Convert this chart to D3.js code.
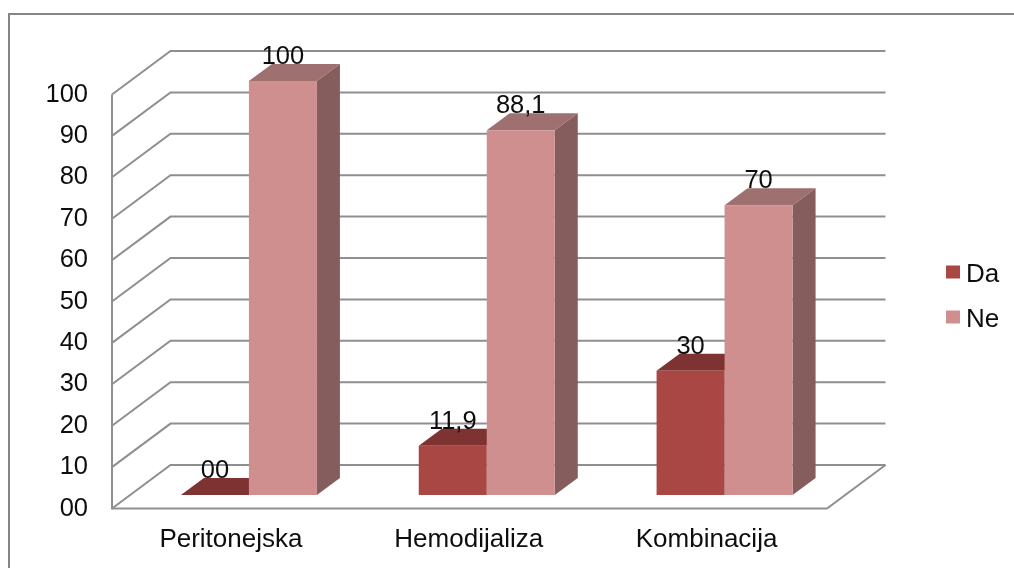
<!DOCTYPE html>
<html><head><meta charset="utf-8">
<script src="https://cdn.jsdelivr.net/npm/d3@7"></script>
<style>html,body{margin:0;background:#fff}svg{display:block}text{font-family:"Liberation Sans",Arial,sans-serif;fill:#111}</style>
</head><body><svg id="c" width="1014" height="568"></svg>
<script>
const categories = ["Peritonejska","Hemodijaliza","Kombinacija"];
const seriesNames = ["Da","Ne"];
const da = [0,11.9,30];
const ne = [100,88.1,70];
const daLabels = ["00","11,9","30"];
const neLabels = ["100","88,1","70"];
const yTicks = [0,10,20,30,40,50,60,70,80,90,100];
const yTickLabels = ["00","10","20","30","40","50","60","70","80","90","100"];
const colors = {Da:{front:"#a94644",top:"#7f3332",side:"#6f2e2d"},Ne:{front:"#cf8f8f",top:"#9e6f6f",side:"#855d5d"}};
const gridColor = "#8f8f8f";

const svg = d3.select("#c");
const defs = svg.append("defs");
defs.append("filter").attr("id","soft").attr("x","-5%").attr("y","-5%").attr("width","110%").attr("height","110%")
  .append("feGaussianBlur").attr("stdDeviation",0.55);
const root = svg.append("g").attr("filter","url(#soft)");

root.append("path").attr("d","M9,580V14H1030").attr("fill","none").attr("stroke","#858585").attr("stroke-width",2);

const left=112, right=827, floorY=508.5, topY=94.5;
const wallDx=58.5, wallDy=43.5, barDx=23, barDy=17, barInsetX=18, barInsetY=13.5;
const y = d3.scaleLinear().domain([0,100]).range([floorY,topY]);
const x0 = d3.scaleBand().domain(categories).range([left,right-1.5]);
const bw = 68;

// walls and floor
const grid = root.append("g").attr("fill","none").attr("stroke",gridColor).attr("stroke-width",2);
yTicks.forEach(t=>{
  grid.append("path").attr("d",`M${left},${y(t)}L${left+wallDx},${y(t)-wallDy}L${right+wallDx},${y(t)-wallDy}`);
});
grid.append("path").attr("d",`M${left},${y(100)}V${floorY}H${right}L${right+wallDx},${floorY-wallDy}`);

// y tick labels
const tickG = root.append("g").attr("font-size",25.5).attr("text-anchor","end");
yTicks.forEach((t,i)=>tickG.append("text").attr("x",88).attr("y",y(t)+7).text(yTickLabels[i]));

// bars
function bar(v,xL,c){
  const yb=floorY-barInsetY, h=y(0)-y(v), yt=yb-h, xR=xL+bw;
  const g=root.append("g");
  g.append("path").attr("fill",c.side).attr("d",`M${xR},${yb}L${xR+barDx},${yb-barDy}V${yt-barDy}L${xR},${yt}Z`);
  g.append("path").attr("fill",c.top).attr("d",`M${xL},${yt}L${xL+barDx},${yt-barDy}H${xR+barDx}L${xR},${yt}Z`);
  g.append("rect").attr("fill",c.front).attr("x",xL).attr("y",yt).attr("width",bw).attr("height",h);
  return yt;
}
const labelG=[];
categories.forEach((cat,i)=>{
  const cx=x0(cat)+x0.bandwidth()/2+barInsetX;
  const t1=bar(da[i],cx-bw,colors.Da);
  const t2=bar(ne[i],cx,colors.Ne);
  labelG.push([cx-bw/2,t1-17,daLabels[i]],[cx+bw/2,t2-17,neLabels[i]]);
});
labelG.forEach(d=>root.append("text").attr("x",d[0]).attr("y",d[1]).attr("text-anchor","middle").attr("font-size",25.5).text(d[2]));

// category labels
categories.forEach(cat=>{
  root.append("text").attr("x",x0(cat)+x0.bandwidth()/2).attr("y",547).attr("text-anchor","middle")
    .attr("font-size",26).text(cat);
});

// legend
seriesNames.forEach((s,i)=>{
  const ly=d3.scaleOrdinal().domain(seriesNames).range([272,317])(s);
  root.append("rect").attr("x",946).attr("y",ly-6.5).attr("width",14).attr("height",13).attr("fill",colors[s].front);
  root.append("text").attr("x",966).attr("y",ly+9.5).attr("font-size",26).text(s);
});
</script></body></html>
